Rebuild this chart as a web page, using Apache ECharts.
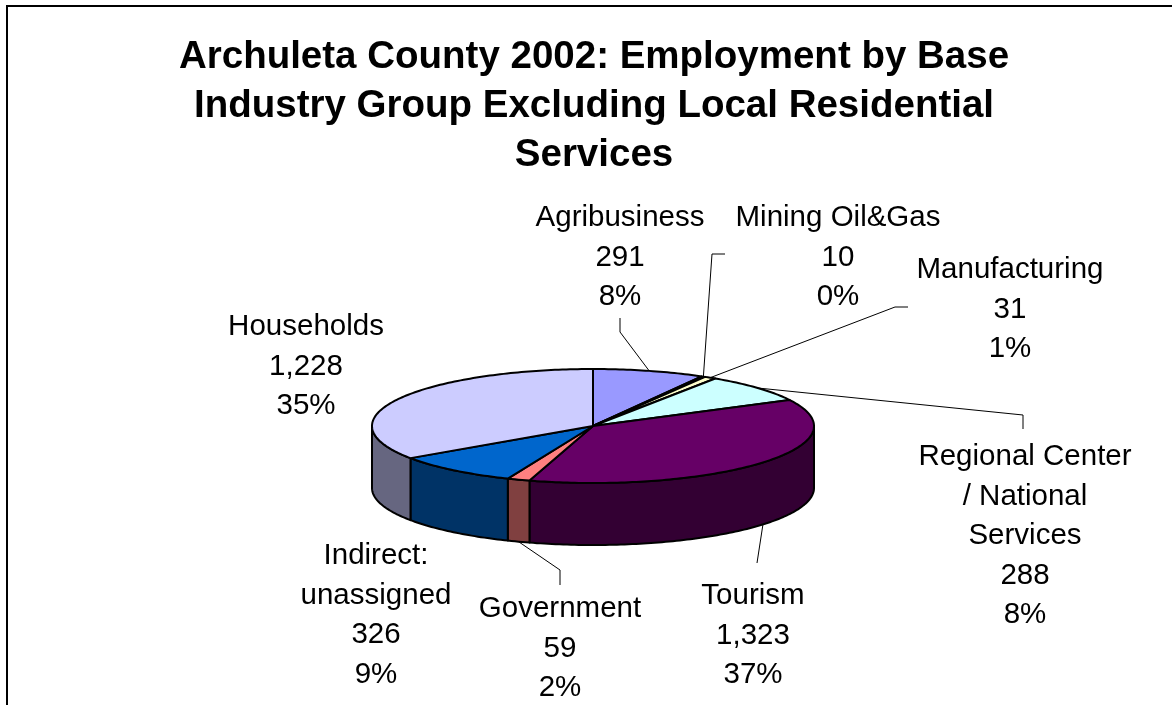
<!DOCTYPE html>
<html>
<head>
<meta charset="utf-8">
<title>Archuleta County 2002</title>
<script src="https://cdn.jsdelivr.net/npm/echarts@6/dist/echarts.min.js"></script>
<style>
  html, body { margin: 0; padding: 0; background: #fff; }
  #chart { width: 1172px; height: 705px; }
</style>
</head>
<body>
<div id="chart"></div>
<script>
// Base industry groups, clockwise from 12 o'clock
const categories = [
  'Agribusiness',
  'Mining Oil&Gas',
  'Manufacturing',
  'Regional Center\n/ National\nServices',
  'Tourism',
  'Government',
  'Indirect:\nunassigned',
  'Households'
];
const employment = [291, 10, 31, 288, 1323, 59, 326, 1228];

// Slice colours: top face and darker rim
const topColors  = ['#9999FF', '#993366', '#FFFFCC', '#CCFFFF', '#660066', '#FF8080', '#0066CC', '#CCCCFF'];
const sideColors = ['#4D4D80', '#4D1A33', '#808066', '#668080', '#330033', '#804040', '#003366', '#666680'];

// Layout of the tilted pie (pixels)
const CX = 593, CY = 426, RX = 221, RY = 57, DEPTH = 62;
const FONT = '"Liberation Sans", Arial, sans-serif';
const LABEL_SIZE = 29.5, LABEL_LH = 39.5;

// Label block anchors (centre of first line) and leader-line bends
const labelAnchor = [[620, 218], [838, 218], [1010, 270], [1025, 457], [753, 596], [560, 609], [376, 556], [306, 327]];
const leaderBends = [
  [[620, 332], [620, 318]],
  [[712, 254], [725, 254]],
  [[895, 307], [908, 307]],
  [[1023, 415], [1023, 429]],
  [[757, 563]],
  [[560, 570], [560, 585]],
  null,
  null
];

const total = employment.reduce((a, b) => a + b, 0);
const startAngle = [];
(function () {
  let acc = 0;
  employment.forEach(v => { startAngle.push(acc / total * 360); acc += v; });
})();

function pt(deg, dy) {
  const r = deg * Math.PI / 180;
  return [CX + RX * Math.sin(r), CY - RY * Math.cos(r) + (dy || 0)];
}
function arc(a0, a1, dy) {
  const n = Math.max(2, Math.ceil(Math.abs(a1 - a0)));
  const pts = [];
  for (let k = 0; k <= n; k++) pts.push(pt(a0 + (a1 - a0) * k / n, dy));
  return pts;
}
function fmt(v) { return String(v).replace(/\B(?=(\d{3})+(?!\d))/g, ','); }

function renderItem(params, api) {
  const i = params.dataIndex;
  const v = api.value(0);
  const a0 = startAngle[i];
  const a1 = a0 + v / total * 360;
  const mid = (a0 + a1) / 2;
  const children = [];
  const edge = { stroke: '#000', lineWidth: 2, lineJoin: 'round' };

  // visible rim on the front half of the disc
  const s = Math.max(a0, 90), e = Math.min(a1, 270);
  if (s < e) {
    children.push({
      type: 'polygon',
      shape: { points: arc(s, e, 0).concat(arc(e, s, DEPTH)) },
      style: Object.assign({ fill: sideColors[i] }, edge)
    });
  }
  // top face
  children.push({
    type: 'polygon',
    shape: { points: [[CX, CY]].concat(arc(a0, a1, 0)) },
    style: Object.assign({ fill: topColors[i] }, edge)
  });
  // leader line
  if (leaderBends[i]) {
    const front = mid > 90 && mid < 270;
    const start = pt(mid, front ? DEPTH : 0);
    children.push({
      type: 'polyline',
      shape: { points: [start].concat(leaderBends[i]) },
      style: { stroke: '#000', lineWidth: 1, fill: null }
    });
  }
  // label: name, value, share
  const pct = Math.round(v / total * 100) + '%';
  const name = categories[i];
  children.push({
    type: 'text',
    x: labelAnchor[i][0],
    y: labelAnchor[i][1] - LABEL_LH / 2,
    style: {
      text: name + '\n' + fmt(v) + '\n' + pct,
      fill: '#000',
      font: 'normal ' + LABEL_SIZE + 'px ' + FONT,
      lineHeight: LABEL_LH,
      align: 'center',
      verticalAlign: 'top'
    }
  });
  return { type: 'group', children: children };
}

const chart = echarts.init(document.getElementById('chart'), null, { renderer: 'canvas' });
chart.setOption({
  animation: false,
  backgroundColor: '#fff',
  graphic: [
    {
      type: 'rect',
      shape: { x: 7, y: 6, width: 1300, height: 900 },
      style: { fill: null, stroke: '#000', lineWidth: 2 },
      silent: true
    },
    {
      type: 'text',
      x: 594,
      y: 57 - 24.5,
      style: {
        text: 'Archuleta County 2002: Employment by Base\nIndustry Group Excluding Local Residential\nServices',
        font: 'bold 38.5px ' + FONT,
        lineHeight: 49,
        fill: '#000',
        align: 'center',
        verticalAlign: 'top'
      },
      silent: true
    }
  ],
  series: [{
    type: 'custom',
    coordinateSystem: 'none',
    silent: true,
    renderItem: renderItem,
    data: employment.map((v, i) => ({ name: categories[i], value: [v] }))
  }]
});
</script>
</body>
</html>
